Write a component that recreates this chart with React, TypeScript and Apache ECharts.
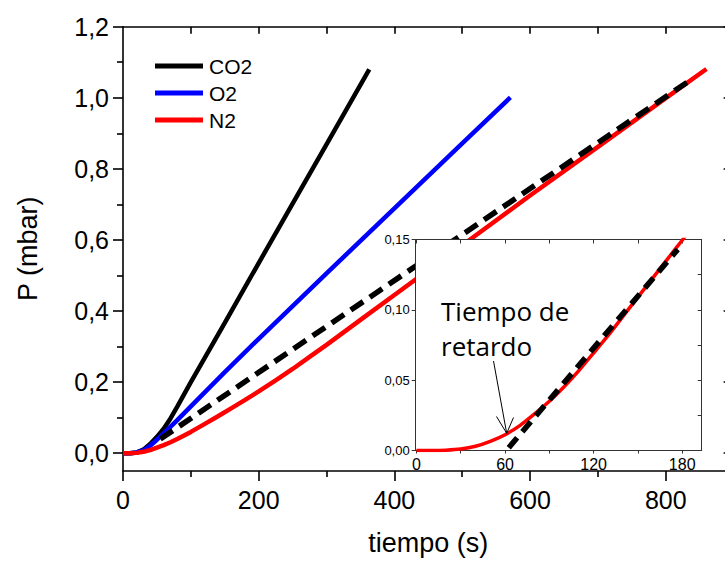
import React, { useEffect, useRef } from "react";
import * as echarts from "echarts";

// ---- Main chart data (tiempo in s, P in mbar) ----
const tCO2 = [0, 10, 20, 30, 40, 50, 60, 70, 80, 100, 150, 200, 250, 300, 363];
const pCO2 = [0, 0, 0.002, 0.01, 0.026, 0.046, 0.069, 0.098, 0.131, 0.2, 0.367, 0.535, 0.702, 0.869, 1.08];

const tO2 = [0, 10, 20, 30, 40, 50, 60, 80, 100, 150, 200, 300, 400, 500, 571];
const pO2 = [0, 0, 0.002, 0.008, 0.021, 0.038, 0.056, 0.093, 0.132, 0.228, 0.322, 0.506, 0.689, 0.872, 1.001];

const tN2 = [0, 10, 20, 30, 40, 50, 60, 70, 80, 90, 100, 120, 140, 160, 180, 200, 225, 250, 275, 300, 350, 400, 500, 600, 700, 800, 860];
const pN2 = [0, 0, 0.001, 0.004, 0.009, 0.016, 0.023, 0.031, 0.04, 0.05, 0.06, 0.082, 0.104, 0.127, 0.15, 0.174, 0.205, 0.237, 0.271, 0.305, 0.375, 0.445, 0.585, 0.725, 0.862, 0.999, 1.081];

const tFit = [55, 838];
const pFit = [0.04, 1.052];

// ---- Inset data ----
const tInset = [0, 10, 20, 30, 40, 50, 60, 70, 80, 90, 100, 110, 120, 130, 140, 150, 160, 170, 180, 190];
const pInset = [0, 0, 0.0002, 0.001, 0.003, 0.0065, 0.0112, 0.0177, 0.026, 0.035, 0.0453, 0.0568, 0.0693, 0.082, 0.0955, 0.109, 0.1225, 0.136, 0.1495, 0.163];
const tInsetFit = [62.5, 177];
const pInsetFit = [0.002, 0.143];

// ---- Ticks ----
const xMainMajor = [0, 200, 400, 600, 800];
const xMainMinor = [100, 300, 500, 700];
const xMainTop = [100, 200, 300, 400, 500, 600, 700, 800];
const yMainMajor = [0, 0.2, 0.4, 0.6, 0.8, 1.0, 1.2];
const yMainMinor = [0.1, 0.3, 0.5, 0.7, 0.9, 1.1];
const xInsetLabels = [0, 60, 120, 180];
const xInsetTicks = [0, 30, 60, 90, 120, 150, 180];
const yInsetLabels = [0, 0.05, 0.1, 0.15];
const yInsetTicks = [0, 0.025, 0.05, 0.075, 0.1, 0.125, 0.15];

const seriesNames = ["CO2", "O2", "N2"];
const annotation = ["Tiempo de", "retardo"];

const pairs = (t: number[], p: number[]) => t.map((v, i) => [v, p[i]]);
const comma = (d: number) => (v: number) => v.toFixed(d).replace(".", ",");

const FONT = "'Liberation Sans', Arial, sans-serif";

export default function App() {
  const ref = useRef<HTMLDivElement>(null);
  useEffect(() => {
    if (!ref.current) return;
    const chart = echarts.init(ref.current, undefined, { renderer: "svg" });
    const black = "#000";
    const insetAxisColor = "#333";
    const mainLine = { show: true, onZero: false, lineStyle: { color: black, width: 1.6 } };
    const insetLine = { show: true, onZero: false, lineStyle: { color: insetAxisColor, width: 1 } };

    chart.setOption({
      animation: false,
      backgroundColor: "#fff",
      textStyle: { fontFamily: FONT },
      legend: {
        data: seriesNames,
        orient: "vertical",
        left: 150,
        top: 50,
        icon: "rect",
        itemWidth: 48,
        itemHeight: 5,
        itemGap: 5,
        textStyle: { fontSize: 21, lineHeight: 22, color: black, fontFamily: FONT, padding: [0, 0, 0, 1] },
        selectedMode: false,
      },
      grid: [
        { left: 123, right: 11.4, top: 26.7, bottom: 85 },
        { left: 415.7, right: 43.3, top: 239.5, bottom: 110.5 },
      ],
      xAxis: [
        {
          type: "value", gridIndex: 0, position: "bottom", min: 0, max: 900,
          axisLine: mainLine,
          axisTick: { show: true, customValues: xMainMajor, length: 10, lineStyle: { color: black, width: 1.6 } },
          axisLabel: { customValues: xMainMajor, fontSize: 25, margin: 16, color: black, fontFamily: FONT },
          splitLine: { show: false },
          name: "tiempo (s)", nameLocation: "middle", nameGap: 58,
          nameTextStyle: { fontSize: 27, color: black, fontFamily: FONT },
        },
        {
          type: "value", gridIndex: 0, position: "bottom", min: 0, max: 900,
          axisLine: { show: false, onZero: false },
          axisTick: { show: true, customValues: xMainMinor, length: 6, lineStyle: { color: black, width: 1.6 } },
          axisLabel: { show: false }, splitLine: { show: false },
        },
        {
          type: "value", gridIndex: 0, position: "top", min: 0, max: 900,
          axisLine: mainLine,
          axisTick: { show: true, inside: true, customValues: xMainTop, length: 7, lineStyle: { color: black, width: 1.6 } },
          axisLabel: { show: false }, splitLine: { show: false },
        },
        {
          type: "value", gridIndex: 1, position: "bottom", min: -0.5, max: 193.2, z: 60,
          axisLine: insetLine,
          axisTick: { show: true, customValues: xInsetTicks, length: 3, lineStyle: { color: insetAxisColor } },
          axisLabel: { customValues: xInsetLabels, fontSize: 16, margin: 6, color: black, fontFamily: FONT },
          splitLine: { show: false },
        },
        {
          type: "value", gridIndex: 1, position: "top", min: -0.5, max: 193.2, z: 60,
          axisLine: insetLine,
          axisTick: { show: true, inside: true, customValues: xInsetTicks, length: 4, lineStyle: { color: insetAxisColor } },
          axisLabel: { show: false }, splitLine: { show: false },
        },
      ],
      yAxis: [
        {
          type: "value", gridIndex: 0, position: "left", min: -0.05, max: 1.2,
          axisLine: mainLine,
          axisTick: { show: true, customValues: yMainMajor, length: 10, lineStyle: { color: black, width: 1.6 } },
          axisLabel: { customValues: yMainMajor, fontSize: 25, margin: 14, color: black, fontFamily: FONT, formatter: comma(1) },
          splitLine: { show: false },
          name: "P (mbar)", nameLocation: "middle", nameGap: 82,
          nameTextStyle: { fontSize: 27, color: black, fontFamily: FONT },
        },
        {
          type: "value", gridIndex: 0, position: "left", min: -0.05, max: 1.2,
          axisLine: { show: false, onZero: false },
          axisTick: { show: true, customValues: yMainMinor, length: 6, lineStyle: { color: black, width: 1.6 } },
          axisLabel: { show: false }, splitLine: { show: false },
        },
        {
          type: "value", gridIndex: 0, position: "right", min: -0.05, max: 1.2,
          axisLine: mainLine,
          axisTick: { show: true, inside: true, customValues: yMainMajor, length: 10, lineStyle: { color: black, width: 1.6 } },
          axisLabel: { show: false }, splitLine: { show: false },
        },
        {
          type: "value", gridIndex: 1, position: "left", min: 0, max: 0.15, z: 60,
          axisLine: insetLine,
          axisTick: { show: true, customValues: yInsetLabels, length: 4, lineStyle: { color: insetAxisColor } },
          axisLabel: { customValues: yInsetLabels, fontSize: 13, margin: 6, color: black, fontFamily: FONT, formatter: comma(2) },
          splitLine: { show: false },
        },
        {
          type: "value", gridIndex: 1, position: "right", min: 0, max: 0.15, z: 60,
          axisLine: insetLine,
          axisTick: { show: true, inside: true, customValues: yInsetTicks, length: 4, lineStyle: { color: insetAxisColor } },
          axisLabel: { show: false }, splitLine: { show: false },
        },
      ],
      graphic: [
        {
          type: "rect", z: 50, silent: true,
          shape: { x: 415.7, y: 239.5, width: 286, height: 211 },
          style: { fill: "#fff" },
        },
        {
          type: "text", z: 70, x: 441, y: 311,
          style: { text: annotation[0], font: "26px 'Open Sans', sans-serif", fill: "#000", verticalAlign: "middle" },
        },
        {
          type: "text", z: 70, x: 441, y: 346,
          style: { text: annotation[1], font: "26px 'Open Sans', sans-serif", fill: "#000", verticalAlign: "middle" },
        },
        {
          type: "line", z: 70,
          shape: { x1: 493.5, y1: 361, x2: 506.7, y2: 433.3 },
          style: { stroke: "#000", lineWidth: 1 },
        },
        {
          type: "polyline", z: 70,
          shape: { points: [[496.5, 416.5], [506.7, 433.3], [513.5, 417.5]] },
          style: { stroke: "#000", lineWidth: 1, fill: "none" },
        },
      ],
      series: [
        {
          name: seriesNames[0], type: "line", xAxisIndex: 0, yAxisIndex: 0, z: 3,
          data: pairs(tCO2, pCO2), showSymbol: false, smooth: false,
          lineStyle: { color: "#000000", width: 4.5 }, itemStyle: { color: "#000000" },
        },
        {
          name: seriesNames[1], type: "line", xAxisIndex: 0, yAxisIndex: 0, z: 3,
          data: pairs(tO2, pO2), showSymbol: false, smooth: false,
          lineStyle: { color: "#0000ff", width: 4.5 }, itemStyle: { color: "#0000ff" },
        },
        {
          name: seriesNames[2], type: "line", xAxisIndex: 0, yAxisIndex: 0, z: 3,
          data: pairs(tN2, pN2), showSymbol: false, smooth: false,
          lineStyle: { color: "#ff0000", width: 4.5 }, itemStyle: { color: "#ff0000" },
        },
        {
          name: "ajuste", type: "line", xAxisIndex: 0, yAxisIndex: 0, z: 4,
          data: pairs(tFit, pFit), showSymbol: false,
          lineStyle: { color: "#000", width: 5.5, type: [15, 8] },
        },
        {
          name: "N2 inset", type: "line", xAxisIndex: 3, yAxisIndex: 3, z: 60,
          data: pairs(tInset, pInset), showSymbol: false, smooth: 0.2, clip: true,
          lineStyle: { color: "#ff0000", width: 3.5 },
        },
        {
          name: "ajuste inset", type: "line", xAxisIndex: 3, yAxisIndex: 3, z: 61,
          data: pairs(tInsetFit, pInsetFit), showSymbol: false, clip: true,
          lineStyle: { color: "#000", width: 5.5, type: [13, 8] },
        },
      ],
    });
    return () => chart.dispose();
  }, []);

  return (
    <div style={{ position: "fixed", left: 0, top: 0, width: 725, height: 561, overflow: "hidden", background: "#fff" }}>
      <div ref={ref} style={{ width: 745, height: 561 }} />
    </div>
  );
}
